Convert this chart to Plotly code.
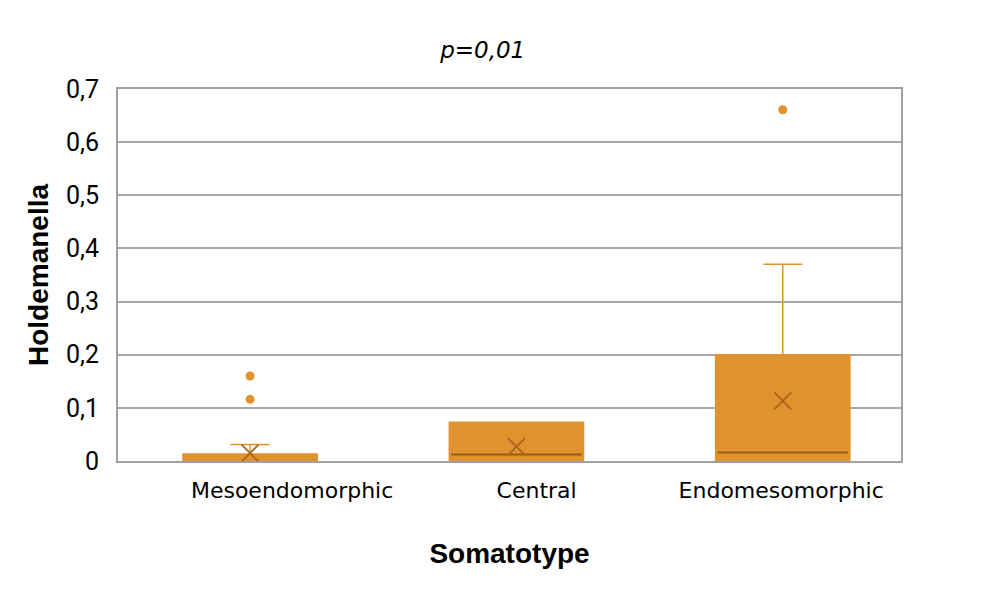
import plotly.graph_objects as go

categories = ["Mesoendomorphic", "Central", "Endomesomorphic"]
q1 = [0.0, 0.0, 0.0]
median = [0.0, 0.012, 0.016]
q3 = [0.013, 0.073, 0.2]
lower_fence = [0.0, 0.0, 0.0]
upper_fence = [0.031, 0.073, 0.37]
means = [0.015, 0.027, 0.113]
outlier_cats = ["Mesoendomorphic", "Mesoendomorphic", "Endomesomorphic"]
outlier_vals = [0.160, 0.116, 0.661]
y_ticks = [0, 0.1, 0.2, 0.3, 0.4, 0.5, 0.6, 0.7]
y_tick_labels = ["0", "0,1", "0,2", "0,3", "0,4", "0,5", "0,6", "0,7"]

orange = "#E0922F"
brown = "#9A5A16"
dark = "#A8651C"

fig = go.Figure()
fig.add_trace(go.Box(
    x=categories, q1=q1, median=q3, q3=q3,
    lowerfence=lower_fence, upperfence=upper_fence,
    fillcolor=orange, line=dict(color=orange, width=1.5),
    width=0.504, whiskerwidth=0.29, showlegend=False, hoverinfo="skip",
))
# median lines (only where the median is above zero; the zero median sits on the axis)
med_cats = [c for c, m in zip(categories, median) if m > 0]
med_vals = [m for m in median if m > 0]
fig.add_trace(go.Box(
    x=med_cats, q1=med_vals, median=med_vals, q3=med_vals,
    lowerfence=med_vals, upperfence=med_vals,
    fillcolor="rgba(0,0,0,0)", line=dict(color=brown, width=2),
    width=0.49, whiskerwidth=0, showlegend=False, hoverinfo="skip",
))
fig.add_trace(go.Scatter(
    x=categories, y=means, mode="markers",
    marker=dict(symbol="x-thin", size=17, line=dict(color=dark, width=1.8)),
    showlegend=False,
))
fig.add_trace(go.Scatter(
    x=outlier_cats, y=outlier_vals, mode="markers",
    marker=dict(symbol="circle", size=9, color=orange),
    showlegend=False,
))
# invisible trace carrying the category labels on the label axis
fig.add_trace(go.Scatter(
    x=categories, y=means, xaxis="x2", mode="markers",
    marker=dict(opacity=0), showlegend=False, hoverinfo="skip",
))

fig.update_layout(
    width=991, height=590,
    margin=dict(l=110, r=98, t=81, b=137),
    plot_bgcolor="white", paper_bgcolor="white",
    title=dict(text="<i>p=0,01</i>", x=0.479, xanchor="center", y=0.929, yanchor="middle",
               font=dict(family="DejaVu Sans", size=23, color="black")),
    font=dict(family="Roboto", color="black"),
    xaxis2=dict(
        type="category", overlaying="x", side="bottom", range=[-0.712, 2.49],
        showline=False, showgrid=False, zeroline=False,
        ticks="outside", ticklen=10, tickcolor="rgba(0,0,0,0)",
        tickfont=dict(family="DejaVu Sans", size=22, color="black"),
    ),
)
fig.layout.xaxis.update(
    type="category", range=[-0.496, 2.444],
    showline=True, linecolor="#A0A0A0", linewidth=2, mirror=True,
    showgrid=False, ticks="", showticklabels=False,
    title=dict(text="<b>Somatotype</b>", font=dict(family="Liberation Sans", size=28), standoff=81),
)
fig.update_yaxes(
    range=[0, 0.7], tickvals=y_ticks, ticktext=y_tick_labels,
    showline=True, linecolor="#A0A0A0", linewidth=2, mirror=True,
    showgrid=True, gridcolor="#A8A8A8", gridwidth=2, zeroline=False,
    ticks="outside", ticklen=12, tickcolor="rgba(0,0,0,0)",
    tickfont=dict(family="Roboto", size=25),
    title=dict(text="<b>Holdemanella</b>", font=dict(family="Liberation Sans", size=28), standoff=9),
)

fig.write_html("out.html")
